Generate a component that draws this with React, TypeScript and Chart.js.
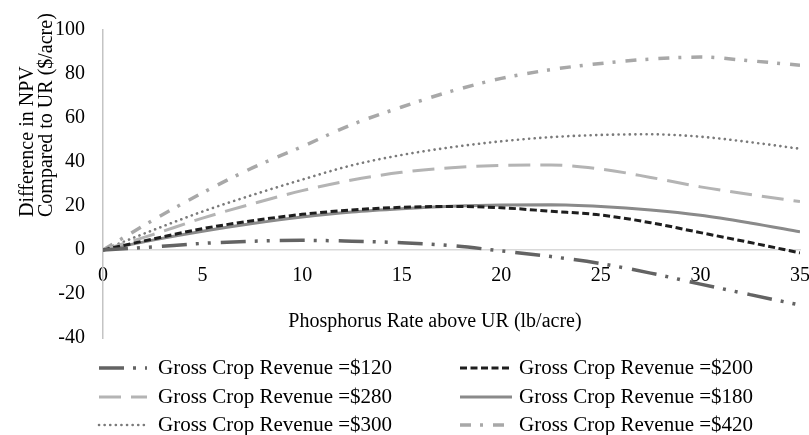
import React, { useEffect, useRef } from 'react';
import { Chart, registerables } from 'chart.js';

Chart.register(...registerables);

const FONT = '"Liberation Serif", "Times New Roman", Times, serif';

// Phosphorus rate above UR (lb/acre)
const xValues = [0, 2.5, 5, 7.5, 10, 12.5, 15, 17.5, 20, 22.5, 25, 27.5, 30, 32.5, 35];

// Difference in NPV compared to UR ($/acre), by gross crop revenue
const rev120 = [0, 1.4, 3, 4, 4.4, 4, 3.3, 2, -0.4, -3, -6.2, -10.5, -15.5, -20.3, -25];
const rev200 = [0, 5, 9.7, 13.3, 16.2, 18.2, 19.4, 19.8, 19.2, 17.6, 15.9, 12.4, 7.9, 3.4, -1.3];
const rev280 = [0, 7, 14.5, 21, 27, 31.8, 35.3, 37.4, 38.4, 38.6, 36.8, 33, 28.7, 25.2, 22];
const rev180 = [0, 4.5, 8.5, 12, 15, 17.3, 18.8, 19.9, 20.5, 20.6, 19.8, 18.2, 15.8, 12.3, 8.3];
const rev300 = [0, 9, 17.5, 25, 32, 38.5, 43.2, 46.7, 49.4, 51.3, 52.3, 52.6, 51.5, 49, 46];
const rev420 = [0, 13.5, 26, 37.3, 47, 57, 65, 72.2, 78, 82, 84.8, 86.8, 87.7, 86, 84];

const seriesLabels = [
  'Gross Crop Revenue =$120',
  'Gross Crop Revenue =$200',
  'Gross Crop Revenue =$280',
  'Gross Crop Revenue =$180',
  'Gross Crop Revenue =$300',
  'Gross Crop Revenue =$420',
];

const yTitleLines = ['Difference in NPV', 'Compared to UR ($/acre)'];
const xTitle = 'Phosphorus Rate above UR (lb/acre)';

const textPlugin = {
  id: 'textPlugin',
  afterDraw(chart: any) {
    const ctx = chart.ctx as CanvasRenderingContext2D;
    ctx.save();
    ctx.fillStyle = '#000';
    ctx.font = `20px ${FONT}`;
    ctx.textBaseline = 'middle';
    // y title
    ctx.save();
    ctx.translate(28, 217);
    ctx.rotate(-Math.PI / 2);
    ctx.textAlign = 'left';
    ctx.fillText(yTitleLines[0], 0, 0);
    ctx.fillText(yTitleLines[1], 0, 19);
    ctx.restore();
    // x title
    ctx.textAlign = 'center';
    ctx.fillText(xTitle, 435, 322);
    // legend
    const colSample = [99, 460];
    const colSampleEnd = [147, 512];
    const colText = [158, 519];
    const rowY = [368, 397, 425];
    chart.data.datasets.forEach((ds: any, i: number) => {
      const col = i % 2;
      const row = Math.floor(i / 2);
      const y = rowY[row];
      ctx.save();
      ctx.strokeStyle = ds.borderColor;
      ctx.lineWidth = ds.borderWidth;
      ctx.lineCap = ds.borderCapStyle || 'butt';
      ctx.setLineDash(ds.borderDash || []);
      ctx.beginPath();
      ctx.moveTo(colSample[col], y);
      ctx.lineTo(colSampleEnd[col], y);
      ctx.stroke();
      ctx.restore();
      ctx.font = `21px ${FONT}`;
      ctx.textAlign = 'left';
      ctx.fillStyle = '#000';
      ctx.fillText(ds.label, colText[col], y);
    });
    ctx.restore();
  },
};

export default function App() {
  const ref = useRef<HTMLCanvasElement>(null);
  useEffect(() => {
    const mk = (vals: number[]) => xValues.map((x, i) => ({ x, y: vals[i] }));
    const datasets: any[] = [
      { label: seriesLabels[0], data: mk(rev120), borderColor: '#636363', borderWidth: 3.5, borderDash: [25, 9, 3, 9, 3, 10] },
      { label: seriesLabels[1], data: mk(rev200), borderColor: '#1e1e1e', borderWidth: 3, borderDash: [7, 3.5] },
      { label: seriesLabels[2], data: mk(rev280), borderColor: '#b4b4b4', borderWidth: 3, borderDash: [22, 10] },
      { label: seriesLabels[3], data: mk(rev180), borderColor: '#8a8a8a', borderWidth: 3, borderDash: [] },
      { label: seriesLabels[4], data: mk(rev300), borderColor: '#7a7a7a', borderWidth: 2.6, borderDash: [0.1, 5.5], borderCapStyle: 'round' },
      { label: seriesLabels[5], data: mk(rev420), borderColor: '#a8a8a8', borderWidth: 3.5, borderDash: [11, 9, 3, 10] },
    ];
    const chart = new Chart(ref.current as HTMLCanvasElement, {
      type: 'line',
      data: { datasets },
      options: {
        responsive: false,
        animation: false,
        layout: { padding: { left: 0, right: 9, top: 19, bottom: 97 } },
        elements: {
          point: { radius: 0 },
          line: { cubicInterpolationMode: 'monotone', borderCapStyle: 'butt', fill: false },
        },
        plugins: { legend: { display: false }, tooltip: { enabled: false } },
        scales: {
          x: {
            type: 'linear',
            min: 0,
            max: 35,
            position: { y: 0 } as any,
            grid: { display: false, drawTicks: false },
            border: { display: true, color: '#d9d9d9', width: 1.5 },
            ticks: { stepSize: 5, padding: 14, color: '#000', font: { family: FONT, size: 20 }, maxRotation: 0 },
            afterFit: (s: any) => { s.paddingLeft = 0; s.paddingRight = 0; },
          },
          y: {
            type: 'linear',
            min: -40,
            max: 100,
            grid: { display: false, drawTicks: false },
            border: { display: true, color: '#c4c4c4', width: 1.5 },
            ticks: { stepSize: 20, padding: 18, color: '#000', font: { family: FONT, size: 20 } },
            afterFit: (s: any) => { s.width = 103; },
          },
        },
      },
      plugins: [textPlugin],
    });
    return () => chart.destroy();
  }, []);
  return (
    <div style={{ position: 'absolute', left: 0, top: 0, width: 809, height: 435, background: '#fff' }}>
      <canvas ref={ref} width={809} height={435} style={{ display: 'block' }} />
    </div>
  );
}
